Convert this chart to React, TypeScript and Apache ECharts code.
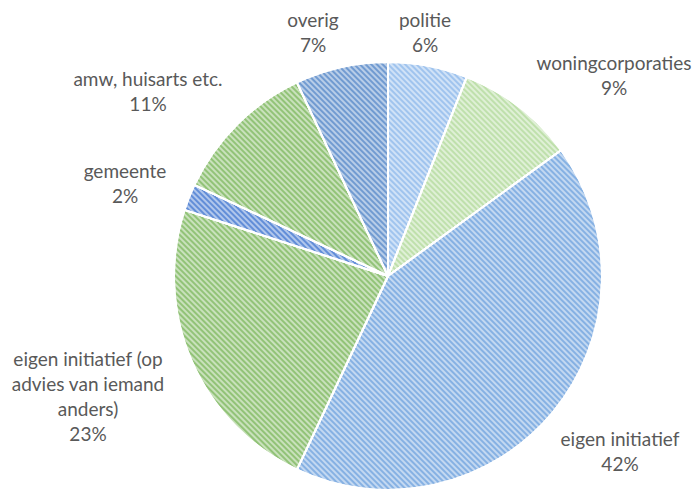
import React, { useEffect, useRef } from "react";
import * as echarts from "echarts";

const categories = [
  "politie",
  "woningcorporaties",
  "eigen initiatief",
  "eigen initiatief (op\nadvies van iemand\nanders)",
  "gemeente",
  "amw, huisarts etc.",
  "overig",
];
const values = [6, 9, 42, 23, 2, 11, 7];
const colors = ["#a0c4ee", "#bfe0ac", "#86b1e3", "#92c378", "#628ed8", "#92c378", "#719bd1"];
const labelPos: [number, number][] = [
  [425, 32],
  [614, 75],
  [620, 451],
  [88, 396],
  [125, 183],
  [148, 91],
  [313, 32],
];

export default function App() {
  const ref = useRef<HTMLDivElement>(null);
  useEffect(() => {
    if (!ref.current) return;
    const chart = echarts.init(ref.current, null, { renderer: "svg" });
    chart.setOption({
      animation: false,
      backgroundColor: "#ffffff",
      series: [
        {
          type: "pie",
          center: [388, 276],
          radius: 214,
          startAngle: 90,
          clockwise: true,
          avoidLabelOverlap: false,
          itemStyle: {
            borderColor: "#ffffff",
            borderWidth: 2,
            decal: {
              symbol: "rect",
              symbolSize: 1,
              dashArrayX: [1, 0],
              dashArrayY: [2, 2],
              rotation: Math.PI / 4,
              color: "rgba(255,255,255,0.5)",
            },
          },
          label: {
            show: true,
            position: "outside",
            formatter: (p: any) => `${p.name}\n${p.value}%`,
            fontFamily: "Lato",
            fontSize: 19,
            lineHeight: 25,
            color: "#595959",
            align: "center",
          },
          labelLine: { show: false },
          labelLayout: (p: any) => ({
            x: labelPos[p.dataIndex][0],
            y: labelPos[p.dataIndex][1],
            align: "center",
            verticalAlign: "middle",
          }),
          data: categories.map((c, i) => ({
            name: c,
            value: values[i],
            itemStyle: { color: colors[i] },
          })),
        },
      ],
    });
    return () => chart.dispose();
  }, []);
  return (
    <div
      ref={ref}
      style={{ position: "fixed", left: 0, top: 0, width: 700, height: 497 }}
    />
  );
}
